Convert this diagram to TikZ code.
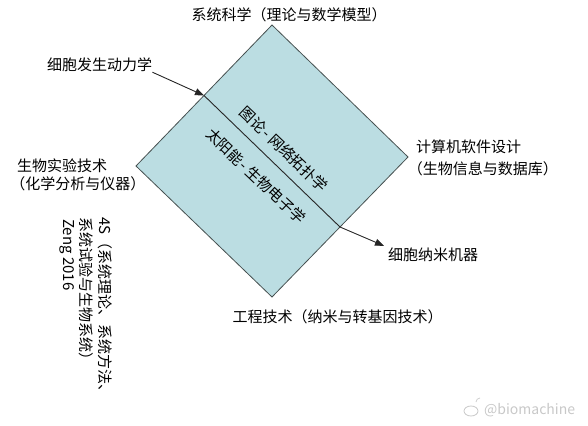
\documentclass[tikz,border=0pt]{standalone}
\usepackage{fontspec}
\setmainfont{Noto Sans CJK SC}
\usetikzlibrary{arrows.meta,calc}
\definecolor{dfill}{RGB}{187,221,226}
\definecolor{dline}{RGB}{70,80,80}
\definecolor{wmgray}{RGB}{200,200,200}
\tikzset{
  lbl/.style={inner sep=0pt, font=\fontsize{15}{18}\selectfont, text=black},
  vlbl/.style={lbl, rotate=-90, anchor=north west},
  conn/.style={line width=0.9pt, draw=black!85},
  tipped/.style={-{Triangle[length=9pt,width=7pt]}},
  diag/.style={lbl, rotate=-43.5},
}
\begin{document}
\begin{tikzpicture}[x=1pt,y=-1pt]
\useasboundingbox (0,0) rectangle (588,425);
% diamond
\coordinate (T) at (272,25);
\coordinate (R) at (408,157);
\coordinate (B) at (272,297);
\coordinate (L) at (136,166);
\draw[fill=dfill, draw=dline, line width=0.8pt] (T) -- (R) -- (B) -- (L) -- cycle;
\coordinate (e1) at ($(L)!0.5!(T)$);
\coordinate (e2) at ($(R)!0.5!(B)$);

% labels
\node[lbl] (sys) at (289,15) {系统科学（理论与数学模型）};
\node[lbl, anchor=west] (dyn) at (47,65) {细胞发生动力学};
\node[lbl, anchor=west, align=left] (exp) at (17,175) {生物实验技术\\\hspace*{-0.45em}（化学分析与仪器）};
\node[lbl, anchor=west, align=left, font=\fontsize{15}{22}\selectfont] (soft) at (416,158) {计算机软件设计\\\hspace*{-0.55em}（生物信息与数据库）};
\node[lbl] (eng) at (337.5,317) {工程技术（纳米与转基因技术）};
\node[lbl, anchor=west] (nano) at (388,255) {细胞纳米机器};

% vertical note (three columns, read top to bottom, right to left)
\node[vlbl] (fours1) at (113,217) {4S（系统理论、系统方法、};
\node[vlbl] (fours2) at (94,217) {系统试验与生物系统）};
\node[vlbl] (fours3) at (75,219) {Zeng 2016};

% inner texts
\node[diag] (graph) at (284,149) {图论\kern0.1em-\kern0.2em网络拓扑学};
\node[diag] (solar) at (256,176) {太阳能\kern0.1em-\kern0.2em生物电子学};

% connectors
\draw[conn, tipped] (dyn.south east) -- (e1);
\draw[conn] (e1) -- (e2);
\draw[conn, tipped] (e2) -- ([xshift=-4pt,yshift=2pt]nano.north west);

% watermark
\draw[wmgray, line width=0.8pt] (471,411) ellipse [x radius=7pt, y radius=5pt];
\draw[wmgray, line width=0.7pt] (476,402) arc[start angle=180, end angle=90, radius=4pt];
\node[inner sep=0pt, anchor=west, font=\fontsize{14}{14}\selectfont, text=wmgray] (wm) at (484,410) {@biomachine};
\end{tikzpicture}
\end{document}
